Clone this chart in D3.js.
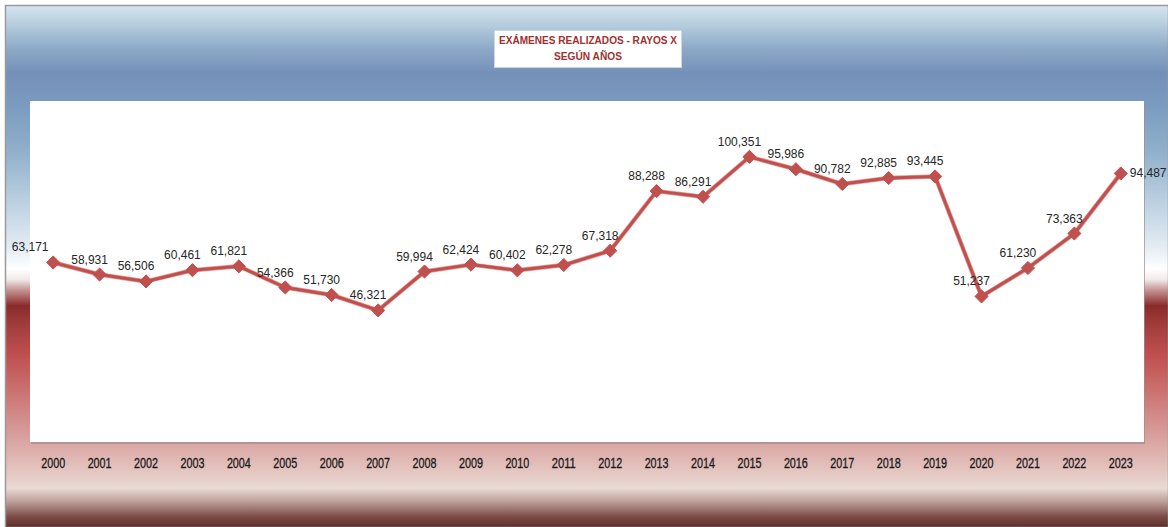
<!DOCTYPE html>
<html>
<head>
<meta charset="utf-8">
<script src="https://cdn.jsdelivr.net/npm/d3@7"></script>
<style>
  body { margin: 0; background: #fff; }
  svg { display: block; }
</style>
</head>
<body>
<div id="chart"></div>
<script>
// datos
var years = ["2000","2001","2002","2003","2004","2005","2006","2007","2008","2009","2010","2011",
             "2012","2013","2014","2015","2016","2017","2018","2019","2020","2021","2022","2023"];
var exams = [63171,58931,56506,60461,61821,54366,51730,46321,59994,62424,60402,62278,
             67318,88288,86291,100351,95986,90782,92885,93445,51237,61230,73363,94487];
var titleLines = ["EXÁMENES REALIZADOS - RAYOS X", "SEGÚN AÑOS"];

var W = 1168, H = 527;
var plot = {left: 30, right: 1144, top: 101, bottom: 442};
var format = d3.format(",");

var svg = d3.select("#chart").append("svg")
    .attr("width", W)
    .attr("height", H);

var defs = svg.append("defs");

// background gradient (blue on top, red below)
var bg = defs.append("linearGradient")
    .attr("id", "bg")
    .attr("x1", 0).attr("y1", 0).attr("x2", 0).attr("y2", 1);
var stops = [
    [0, "#d6e5f0"], [0.04, "#b3cbdc"], [0.08, "#8fabc8"], [0.13, "#7590b8"],
    [0.19, "#7a9bbf"], [0.28, "#90b0cb"], [0.37, "#b9cee0"], [0.46, "#e2ebf2"],
    [0.505, "#ffffff"], [0.525, "#f2eaea"], [0.545, "#c59494"], [0.575, "#8b2b2b"],
    [0.62, "#a64040"], [0.67, "#c04f4f"], [0.75, "#cc7876"], [0.83, "#d9a29f"],
    [0.9, "#e6cac5"], [0.925, "#eadad5"], [0.95, "#bda09b"], [0.98, "#7a4a45"], [1, "#5e2e2a"]
];
bg.selectAll("stop").data(stops).enter().append("stop")
    .attr("offset", function(d) { return d[0]; })
    .attr("stop-color", function(d) { return d[1]; });

svg.append("rect")
    .attr("x", 5.5).attr("y", 5.5)
    .attr("width", W - 5).attr("height", H - 5)
    .attr("fill", "url(#bg)")
    .attr("stroke", "#9a9a9a")
    .attr("stroke-width", 1.5);

// plot area with shadow
svg.append("rect")
    .attr("x", plot.left + 1).attr("y", plot.top + 2)
    .attr("width", plot.right - plot.left).attr("height", plot.bottom - plot.top)
    .attr("fill", "#9a8f8f").attr("opacity", 0.7);
svg.append("rect")
    .attr("x", plot.left).attr("y", plot.top)
    .attr("width", plot.right - plot.left).attr("height", plot.bottom - plot.top)
    .attr("fill", "#ffffff");

// title box
var tb = svg.append("g");
tb.append("rect")
    .attr("x", 494.5).attr("y", 30.5)
    .attr("width", 187).attr("height", 37)
    .attr("fill", "#ffffff")
    .attr("stroke", "#c9d6e6");
tb.selectAll("text").data(titleLines).enter().append("text")
    .attr("x", 588)
    .attr("y", function(d, i) { return 44 + i * 16; })
    .attr("text-anchor", "middle")
    .attr("font-family", "Liberation Sans, Arial, sans-serif")
    .attr("font-weight", "bold")
    .attr("font-size", 11)
    .attr("fill", "#a0312f")
    .attr("textLength", function(d, i) { return i == 0 ? 178 : 68; })
    .attr("lengthAdjust", "spacingAndGlyphs")
    .text(function(d) { return d; });

// scales
var x = d3.scaleBand()
    .domain(years)
    .range([plot.left, plot.right]);

var y = d3.scaleLinear()
    .domain([0, 120000])
    .range([plot.bottom, plot.top]);

var cx = function(d, i) { return x(years[i]) + x.bandwidth() / 2; };

// x axis
var xAxis = d3.axisBottom(x).tickSize(0).tickPadding(0);
var gx = svg.append("g")
    .attr("transform", "translate(0," + (plot.bottom + 16) + ")")
    .call(xAxis);
gx.select(".domain").remove();
gx.selectAll("text")
    .attr("font-family", "Liberation Sans, Arial, sans-serif")
    .attr("font-size", 14)
    .attr("fill", "#1a1a1a")
    .attr("stroke", "#1a1a1a")
    .attr("stroke-width", 0.3)
    .attr("textLength", 24)
    .attr("lengthAdjust", "spacingAndGlyphs");

// line
var line = d3.line()
    .x(cx)
    .y(function(d) { return y(d); });

svg.append("path")
    .datum(exams)
    .attr("d", line)
    .attr("fill", "none")
    .attr("stroke", "#e39a98")
    .attr("stroke-width", 4.5)
    .attr("stroke-linejoin", "round");
svg.append("path")
    .datum(exams)
    .attr("d", line)
    .attr("fill", "none")
    .attr("stroke", "#c0504d")
    .attr("stroke-width", 3)
    .attr("stroke-linejoin", "round");

// markers
svg.append("g").selectAll("path")
    .data(exams)
    .enter().append("path")
    .attr("d", d3.symbol().type(d3.symbolDiamond2).size(110))
    .attr("transform", function(d, i) { return "translate(" + cx(d, i) + "," + y(d) + ")"; })
    .attr("fill", "#c0504d")
    .attr("stroke", "#c0504d")
    .attr("stroke-width", 1);

// data labels
var last = exams.length - 1;
svg.append("g").selectAll("text")
    .data(exams)
    .enter().append("text")
    .attr("x", function(d, i) {
        if (i == 0) return cx(d, i) - 23;
        if (i == last) return cx(d, i) + 9;
        return cx(d, i) - 10;
    })
    .attr("y", function(d, i) { return i == last ? y(d) + 4 : y(d) - 11; })
    .attr("text-anchor", function(d, i) { return i == last ? "start" : "middle"; })
    .attr("font-family", "Liberation Sans, Arial, sans-serif")
    .attr("font-size", 12)
    .attr("fill", "#262626")
    .text(function(d) { return format(d); });
</script>
</body>
</html>
